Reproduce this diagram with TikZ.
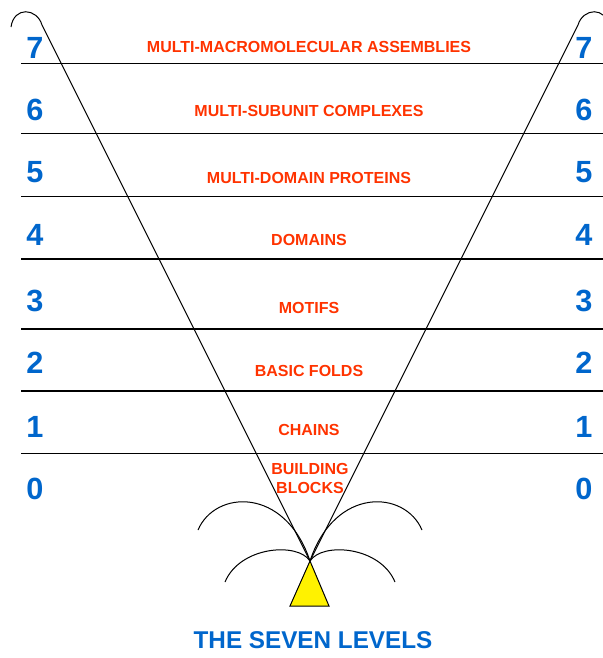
\documentclass[tikz,border=0pt]{standalone}
\usepackage{fontspec}
\setmainfont{Liberation Sans}
\usetikzlibrary{
  calc,
  positioning,
}
\definecolor{levelred}{RGB}{255, 51, 0}
\definecolor{levelblue}{RGB}{0, 102, 204}
\tikzstyle{level} = [
  font=\bfseries\fontsize{12}{14.2}\selectfont,
  text=levelred,
  inner sep=0pt,
  align=center,
]
\tikzstyle{number} = [
  font=\bfseries\fontsize{23}{26}\selectfont,
  text=levelblue,
  inner sep=0pt,
]
\tikzstyle{rule} = [line width=1.3pt]
\tikzstyle{cone} = [line width=0.75pt]

\begin{document}
\begin{tikzpicture}[x=0.75pt, y=-0.75pt]
      \clip (0, 0) rectangle (603, 658);

      % the level boundaries
      \foreach \y in {63.5, 133.5, 196.5, 259, 329, 391, 453.5}
        \draw [rule] (21, \y) -- (603, \y);

      % level numbers on both sides
      \foreach \n/\y in {7/48, 6/110, 5/172, 4/235, 3/300.5, 2/363, 1/427, 0/489} {
        \node [number] (num-l-\n) at (35, \y) {\n};
        \node [number] (num-r-\n) at (584, \y) {\n};
      }

      \node [level] (lvl-7) at (309, 47) {MULTI-MACROMOLECULAR ASSEMBLIES};
      \node [level] (lvl-6) at (309, 111) {MULTI-SUBUNIT COMPLEXES};
      \node [level] (lvl-5) at (309, 177.5) {MULTI-DOMAIN PROTEINS};
      \node [level] (lvl-4) at (309, 240) {DOMAINS};
      \node [level] (lvl-3) at (309, 308) {MOTIFS};
      \node [level] (lvl-2) at (309, 370.5) {BASIC FOLDS};
      \node [level] (lvl-1) at (309, 430) {CHAINS};
      \node [level] (lvl-0) at (310, 478.5) {BUILDING\\BLOCKS};

      % the cone and its two hooks
      \coordinate (apex) at (310, 561);
      \coordinate (hook-l) at (42, 25);
      \coordinate (hook-r) at (578, 25);
      \draw [cone] (apex) -- (hook-l) .. controls (37, 8) and (14, 6) .. (11, 27);
      \draw [cone] (apex) -- (hook-r) .. controls (583, 8) and (606, 6) .. (609, 27);

      % arches out of the tip
      \draw [cone] (198, 530) .. controls (215, 490) and (285, 486) .. (apex);
      \draw [cone] (apex) .. controls (335, 486) and (405, 490) .. (422, 530);
      \draw [cone] (225, 582) .. controls (240, 546) and (298, 542) .. (apex);
      \draw [cone] (apex) .. controls (322, 542) and (380, 546) .. (395, 582);

      \draw [cone, fill=yellow] (apex) -- (290, 606) -- (329, 606) -- cycle;

      \node [number, font=\bfseries\fontsize{18.2}{22}\selectfont] (title) at (313, 640) {THE SEVEN LEVELS};
    \end{tikzpicture}
\end{document}
